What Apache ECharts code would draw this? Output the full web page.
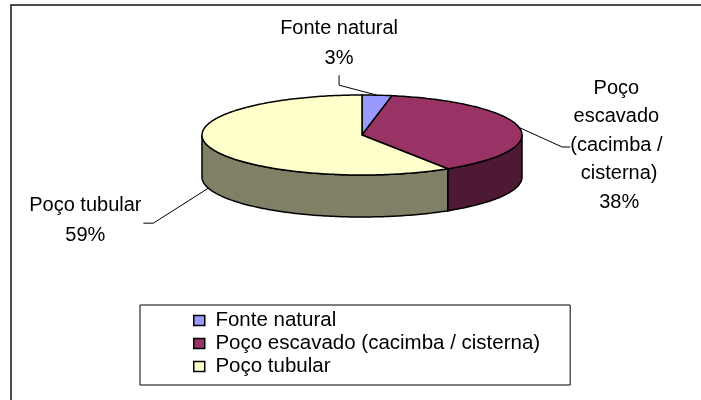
<!DOCTYPE html>
<html>
<head>
<meta charset="UTF-8">
<title></title>
<script src="https://cdn.jsdelivr.net/npm/echarts@6/dist/echarts.min.js"></script>
<style>html,body{margin:0;padding:0;background:#fff;}</style>
</head>
<body>
<div id="grafico" style="width:701px;height:400px;"></div>
<script type="text/javascript">
var categorias = ['Fonte natural', 'Poço escavado (cacimba / cisterna)', 'Poço tubular'];
var valores = [3, 38, 59];
var coresTopo = ['#9999FF', '#993366', '#FFFFCC'];
var coresLado = ['#4D4D80', '#4D1933', '#808066'];

// geometria da pizza 3D (pixels)
var cx = 362, cy = 135, rx = 160, ry = 40, prof = 42;
var fonte = 'Liberation Sans, Arial, sans-serif';

// posição dos rótulos, relativa ao ponto da fatia
var rotulos = [
	{ cot: [-38, -10], fim: [-38, -20], txt: [-38, -22], larg: 200, va: 'bottom', lh: 30 },
	{ cot: [43, 19.5], fim: [51, 19.5], txt: [100, 17.5], larg: 110, va: 'middle', lh: 28.5 },
	{ cot: [-55, 35], fim: [-65, 35], txt: [-123, 32], larg: 200, va: 'middle', lh: 30 }
];

var total = valores.reduce(function(a, b) { return a + b; }, 0);

function ponto(t, dy) {
	return [cx + rx * Math.sin(t), cy - ry * Math.cos(t) + (dy || 0)];
}
function arco(a, b, dy) {
	var pts = [];
	var n = Math.max(2, Math.ceil((b - a) / (Math.PI / 180)));
	for(var k = 0; k <= n; k++) {
		pts.push(ponto(a + (b - a) * k / n, dy));
	}
	return pts;
}

function desenha(idx) {
	return function(params, api) {
		var antes = 0;
		for(var i = 0; i < idx; i++) antes += valores[i];
		var v = api.value(0);
		var t0 = antes / total * Math.PI * 2;
		var t1 = (antes + v) / total * Math.PI * 2;
		var filhos = [];

		// lateral (só a parte da frente aparece)
		var a = Math.max(t0, Math.PI / 2), b = Math.min(t1, Math.PI * 1.5);
		if(b > a) {
			filhos.push({
				type: 'polygon',
				z2: 1,
				shape: { points: arco(a, b, 0).concat(arco(a, b, prof).reverse()) },
				style: { fill: coresLado[idx], stroke: '#000', lineWidth: 1.5 }
			});
		}
		// topo
		filhos.push({
			type: 'polygon',
			z2: 2,
			shape: { points: [[cx, cy]].concat(arco(t0, t1, 0)) },
			style: { fill: coresTopo[idx], stroke: '#000', lineWidth: 1.5 }
		});

		// rótulo + linha de chamada
		var tm = (t0 + t1) / 2;
		var ancora = ponto(tm, Math.cos(tm) < 0 ? prof : 0);
		var r = rotulos[idx];
		filhos.push({
			type: 'polyline',
			z2: 3,
			shape: { points: [ancora, [ancora[0] + r.cot[0], ancora[1] + r.cot[1]], [ancora[0] + r.fim[0], ancora[1] + r.fim[1]]] },
			style: { fill: null, stroke: '#000', lineWidth: 1 }
		});
		filhos.push({
			type: 'text',
			z2: 3,
			style: {
				text: categorias[idx] + '\n' + Math.round(v / total * 100) + '%',
				x: ancora[0] + r.txt[0],
				y: ancora[1] + r.txt[1],
				align: 'center',
				verticalAlign: r.va,
				width: r.larg,
				overflow: 'break',
				lineHeight: r.lh,
				fontSize: 20,
				fontFamily: fonte,
				fill: '#000'
			}
		});
		return { type: 'group', children: filhos };
	};
}

var series = categorias.map(function(nome, i) {
	return {
		name: nome,
		type: 'custom',
		coordinateSystem: 'none',
		itemStyle: { color: coresTopo[i] },
		data: [[valores[i]]],
		renderItem: desenha(i)
	};
});

var myChart = echarts.init(document.getElementById('grafico'));
var option = {
	animation: false,
	backgroundColor: '#fff',
	// moldura da área do gráfico (só topo e esquerda cabem na imagem)
	graphic: [{
		type: 'polyline',
		silent: true,
		shape: { points: [[11, 420], [11, 5], [720, 5]] },
		style: { fill: null, stroke: '#111', lineWidth: 1.5 }
	}],
	legend: {
		orient: 'vertical',
		left: 140,
		top: 305,
		padding: [4, 30, 7, 53],
		backgroundColor: '#fff',
		borderColor: '#000',
		borderWidth: 1,
		itemGap: 0,
		itemWidth: 11,
		itemHeight: 10,
		icon: 'rect',
		itemStyle: { borderColor: '#000', borderWidth: 1.5 },
		textStyle: { fontSize: 20.5, fontFamily: fonte, color: '#000', lineHeight: 23 },
		formatter: function(nome) { return ' ' + nome; },
		data: categorias
	},
	series: series
};
myChart.setOption(option);
</script>
</body>
</html>
